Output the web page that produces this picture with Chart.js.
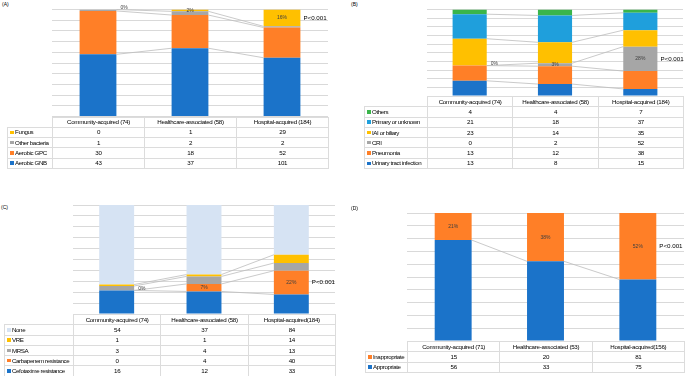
<!DOCTYPE html>
<html><head><meta charset="utf-8">
<script src="https://cdn.jsdelivr.net/npm/chart.js@4/dist/chart.umd.min.js"></script>
<style>
body{margin:0;background:#fff;width:685px;height:376px;overflow:hidden;position:relative;font-family:"Liberation Sans",Arial,sans-serif;}
.box{position:absolute;}
.ttl{position:absolute;font-size:5px;color:#000;}
table{position:absolute;border-collapse:collapse;table-layout:fixed;font-size:6.2px;letter-spacing:-0.3px;color:#000;}
tr{height:10.3px;}
td{border:1px solid #dcdcdc;padding:0;line-height:8px;text-align:center;white-space:nowrap;overflow:hidden;}
td.lab{text-align:left;padding-left:2px;letter-spacing:-0.4px;}
td.blank{border-top:none;border-left:none;}
.sw{display:inline-block;width:3.5px;height:3.5px;margin-right:1.5px;vertical-align:middle;position:relative;top:-0.5px;}
</style></head>
<body>
<script>
// ---------- DATA ----------
const categoriesA = ["Community-acquired (74)", "Healthcare-associated (58)", "Hospital-acquired (184)"];
const aerobicGNB = [43, 37, 101];
const aerobicGPC = [30, 18, 52];
const otherBacteria = [1, 2, 2];
const fungus = [0, 1, 29];

const categoriesB = ["Community-acquired (74)", "Healthcare-associated (58)", "Hospital-acquired (184)"];
const urinaryTract = [13, 8, 15];
const pneumonia = [13, 12, 38];
const cri = [0, 2, 52];
const iaiBiliary = [23, 14, 35];
const primaryUnknown = [21, 18, 37];
const othersB = [4, 4, 7];

const categoriesC = ["Community-acquired (74)", "Healthcare-associated (58)", "Hospital-acquired(184)"];
const cefotaximeRes = [16, 12, 33];
const carbapenemRes = [0, 4, 40];
const mrsa = [3, 4, 13];
const vre = [1, 1, 14];
const noneC = [54, 37, 84];

const categoriesD = ["Community-acquired (71)", "Healthcare-associated (53)", "Hospital-acquired(156)"];
const appropriate = [56, 33, 75];
const inappropriate = [15, 20, 81];

const pValueText = "P<0.001";

// ---------- STYLE ----------
const BLUE = '#1b73c9', ORANGE = '#ff7f27', GRAY = '#a6a6a6', YELLOW = '#ffc000',
      LBLUE = '#1f9fdc', GREEN = '#3ab54a', PALE = '#d6e3f3';

const panels = [
  { title: '(A)', titlePos: [2, 1],
    box: { left: 0, top: 0, width: 340, height: 117 }, pad: { left: 52, right: 12, top: 9.5, bottom: 0.5 },
    categories: categoriesA,
    series: [
      { name: 'Aerobic GNB', data: aerobicGNB, color: BLUE },
      { name: 'Aerobic GPC', data: aerobicGPC, color: ORANGE },
      { name: 'Other bacteria', data: otherBacteria, color: GRAY },
      { name: 'Fungus', data: fungus, color: YELLOW }
    ], labelIdx: 3,
    table: { left: 7, top: 116.5, labelW: 45, colW: 92 } },
  { title: '(B)', titlePos: [351, 1],
    box: { left: 340, top: 0, width: 345, height: 97 }, pad: { left: 87, right: 2, top: 9.5, bottom: 1 },
    categories: categoriesB,
    series: [
      { name: 'Urinary tract infection', data: urinaryTract, color: BLUE },
      { name: 'Pneumonia', data: pneumonia, color: ORANGE },
      { name: 'CRI', data: cri, color: GRAY },
      { name: 'IAI or biliary', data: iaiBiliary, color: YELLOW },
      { name: 'Primary or unknown', data: primaryUnknown, color: LBLUE },
      { name: 'Others', data: othersB, color: GREEN }
    ], labelIdx: 2,
    table: { left: 364, top: 96, labelW: 63, colW: 85.33 } },
  { title: '(C)', titlePos: [1, 204],
    box: { left: 0, top: 180, width: 340, height: 135 }, pad: { left: 73, right: 5, top: 25, bottom: 1 },
    categories: categoriesC,
    series: [
      { name: 'Cefotaxime resistance', data: cefotaximeRes, color: BLUE },
      { name: 'Carbapenem resistance', data: carbapenemRes, color: ORANGE },
      { name: 'MRSA', data: mrsa, color: GRAY },
      { name: 'VRE', data: vre, color: YELLOW },
      { name: 'None', data: noneC, color: PALE }
    ], labelIdx: 1,
    table: { left: 4, top: 314, labelW: 69, colW: 87.33 } },
  { title: '(D)', titlePos: [351, 205],
    box: { left: 340, top: 180, width: 345, height: 162 }, pad: { left: 67, right: 1, top: 33, bottom: 1 },
    categories: categoriesD,
    series: [
      { name: 'Appropriate', data: appropriate, color: BLUE },
      { name: 'Inappropriate', data: inappropriate, color: ORANGE }
    ], labelIdx: 1,
    table: { left: 365, top: 341, labelW: 42, colW: 92.33 } }
];

Chart.defaults.font.family = '"Liberation Sans", Arial, sans-serif';

function buildPanel(p) {
  const t = document.createElement('div');
  t.className = 'ttl'; t.textContent = p.title;
  t.style.left = p.titlePos[0] + 'px'; t.style.top = p.titlePos[1] + 'px';
  document.body.appendChild(t);

  const box = document.createElement('div');
  box.className = 'box';
  Object.assign(box.style, { left: p.box.left + 'px', top: p.box.top + 'px', width: p.box.width + 'px', height: p.box.height + 'px' });
  const cv = document.createElement('canvas');
  box.appendChild(cv);
  document.body.appendChild(box);

  const totals = p.categories.map((_, j) => p.series.reduce((s, ser) => s + ser.data[j], 0));
  const datasets = p.series.map(s => ({
    label: s.name,
    data: s.data.map((v, j) => v / totals[j] * 100),
    backgroundColor: s.color, borderWidth: 0,
    barPercentage: 0.8, categoryPercentage: 0.5
  }));

  const linesPlugin = {
    id: 'seriesLines',
    afterDatasetsDraw(chart) {
      const ctx = chart.ctx; ctx.save();
      ctx.strokeStyle = '#bdbdbd'; ctx.lineWidth = 0.8;
      for (let i = 0; i < chart.data.datasets.length - 1; i++) {
        const meta = chart.getDatasetMeta(i);
        for (let j = 0; j < meta.data.length - 1; j++) {
          const a = meta.data[j], b = meta.data[j + 1];
          ctx.beginPath();
          ctx.moveTo(a.x + a.width / 2, a.y);
          ctx.lineTo(b.x - b.width / 2, b.y);
          ctx.stroke();
        }
      }
      ctx.restore();
    }
  };
  const labelPlugin = {
    id: 'segLabels',
    afterDraw(chart) {
      const ctx = chart.ctx; ctx.save();
      const meta = chart.getDatasetMeta(p.labelIdx);
      const raw = p.series[p.labelIdx].data;
      ctx.textBaseline = 'middle';
      meta.data.forEach((bar, j) => {
        const pct = Math.round(raw[j] / totals[j] * 100) + '%';
        ctx.fillStyle = '#404040';
        ctx.font = '5px "Liberation Sans", Arial, sans-serif';
        if (raw[j] === 0) {
          ctx.textAlign = 'left';
          ctx.fillText(pct, bar.x + bar.width / 2 + 4, bar.y - 2);
        } else {
          ctx.textAlign = 'center';
          ctx.fillText(pct, bar.x, (bar.y + bar.base) / 2);
        }
        if (j === meta.data.length - 1) {
          ctx.fillStyle = '#000';
          ctx.font = '6.2px "Liberation Sans", Arial, sans-serif';
          ctx.textAlign = 'left';
          ctx.fillText(pValueText, bar.x + bar.width / 2 + 3, (bar.y + bar.base) / 2);
        }
      });
      ctx.restore();
    }
  };

  new Chart(cv, {
    type: 'bar',
    data: { labels: p.categories, datasets },
    options: {
      responsive: true, maintainAspectRatio: false, animation: false,
      layout: { padding: p.pad },
      plugins: { legend: { display: false }, tooltip: { enabled: false } },
      scales: {
        x: { stacked: true, display: false },
        y: { stacked: true, min: 0, max: 100,
             ticks: { display: false, stepSize: 10 },
             grid: { color: '#d9d9d9', lineWidth: 1, drawTicks: false },
             border: { display: false } }
      }
    },
    plugins: [linesPlugin, labelPlugin]
  });

  // table
  const tb = document.createElement('table');
  tb.style.left = p.table.left + 'px'; tb.style.top = p.table.top + 'px';
  const nCol = p.categories.length;
  tb.style.width = (p.table.labelW + p.table.colW * nCol) + 'px';
  const cg = document.createElement('colgroup');
  [p.table.labelW].concat(p.categories.map(() => p.table.colW)).forEach(w => {
    const c = document.createElement('col'); c.style.width = w + 'px'; cg.appendChild(c);
  });
  tb.appendChild(cg);
  const hr = document.createElement('tr');
  const blank = document.createElement('td'); blank.className = 'blank'; hr.appendChild(blank);
  p.categories.forEach(c => { const td = document.createElement('td'); td.textContent = c; hr.appendChild(td); });
  tb.appendChild(hr);
  p.series.slice().reverse().forEach(s => {
    const tr = document.createElement('tr');
    const lab = document.createElement('td'); lab.className = 'lab';
    const sw = document.createElement('span'); sw.className = 'sw'; sw.style.background = s.color;
    lab.appendChild(sw); lab.appendChild(document.createTextNode(s.name));
    tr.appendChild(lab);
    s.data.forEach(v => { const td = document.createElement('td'); td.textContent = v; tr.appendChild(td); });
    tb.appendChild(tr);
  });
  document.body.appendChild(tb);
}

panels.forEach(buildPanel);
</script>
</body></html>
